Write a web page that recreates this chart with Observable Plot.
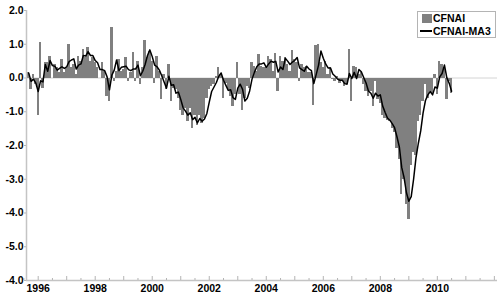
<!DOCTYPE html>
<html><head><meta charset="utf-8">
<script src="https://cdn.jsdelivr.net/npm/d3@7"></script>
<script src="https://cdn.jsdelivr.net/npm/@observablehq/plot@0.6"></script>
<style>
html,body{margin:0;padding:0;background:#fff;}
#wrap{position:relative;width:500px;height:300px;font-family:"Liberation Sans",Arial,sans-serif;}
#legend{position:absolute;left:417px;top:11px;width:77px;height:25px;border:1px solid #b4b4b4;background:#fff;font-weight:bold;font-size:10.5px;color:#000;}
#legend .sw{position:absolute;left:4px;top:2px;width:10px;height:9px;background:#808080;}
#legend .ln{position:absolute;left:2px;top:18px;width:12px;height:1.6px;background:#000;}
#legend .t1{position:absolute;left:15px;top:0px;line-height:13px;}
#legend .t2{position:absolute;left:15px;top:13px;line-height:13px;}
</style>
</head><body>
<div id="wrap"><div id="chart"></div>
<div id="legend"><div class="sw"></div><span class="t1">CFNAI</span><div class="ln"></div><span class="t2">CFNAI-MA3</span></div>
</div>
<script>
// Monthly CFNAI values, Sep 1995 – Jul 2010
const firstYear = 1995, firstMonth = 9;
const cfnai = [
 0.15,-0.35,0.1,-0.2,
 -1.1,1.05,-0.3,0.45,0.45,0.65,0.0,0.4,0.3,0.15,0.55,0.15,
 0.3,1.0,0.3,0.4,0.1,0.65,0.5,0.85,0.6,0.9,0.5,0.6,
 0.45,0.3,0.0,0.45,0.2,-0.55,-0.7,1.5,-0.1,0.2,0.55,0.2,
 0.25,0.6,-0.1,0.15,0.75,-0.1,0.5,-0.2,0.3,1.1,0.6,0.8,
 0.5,-0.15,0.65,0.2,-0.65,0.1,-0.35,0.4,-0.7,-0.3,-0.35,-0.6,
 -0.95,-1.1,-0.9,-1.3,-0.9,-1.5,-1.1,-1.4,-1.1,-1.35,-1.2,-0.6,
 -0.35,-0.25,-0.2,0.05,0.3,0.1,-0.6,-0.15,-0.35,-0.55,-0.85,-0.5,
 0.45,-0.5,-0.95,-0.6,-0.25,-0.3,0.45,0.35,0.2,0.7,0.35,0.3,
 0.3,0.65,0.55,0.2,0.73,-0.4,0.65,0.5,0.6,0.4,0.2,0.82,
 0.55,0.45,-0.1,0.4,0.3,0.35,0.15,0.15,-0.8,0.95,1.0,0.45,
 0.3,0.5,0.1,0.3,-0.05,-0.1,0.05,-0.15,-0.1,-0.25,-0.2,0.85,
 -0.7,0.35,0.3,0.1,0.15,-0.2,-0.4,-0.55,-0.4,-0.85,-0.1,-0.65,
 -0.75,-1.1,-1.2,-1.25,-1.3,-1.5,-1.62,-2.1,-2.4,-3.45,-3.0,-3.75,
 -4.2,-2.6,-2.2,-2.3,-1.3,-1.1,-0.7,-0.2,-0.6,-0.4,-0.5,0.1,
 -0.5,0.5,0.4,0.25,-0.63,-0.1,-0.45
];
const yTicks = [2, 1, 0, -1, -2, -3, -4, -5, -6];
const yTickLabels = ["2.0","1.0","0.0","-1.0","-2.0","-3.0","-4.0","-5.0","-4.0"];
const xLabelYears = [1996, 1998, 2000, 2002, 2004, 2006, 2008, 2010];
const yearTicks = d3.range(1996, 2013);
const halfYearTicks = d3.range(1995.5, 2012, 1);
const xDomain = [1995.59, 2012.11];
const yDomain = [-6, 2];

const data = cfnai.map((v, i) => ({t: firstYear + (firstMonth - 1 + i) / 12, v}));
const hw = 1 / 24;

const chart = Plot.plot({
  width: 500, height: 300,
  marginLeft: 26, marginRight: 3, marginTop: 10, marginBottom: 20,
  x: {domain: xDomain, label: null},
  y: {domain: yDomain, label: null},
  style: {fontFamily: '"Liberation Sans", Arial, sans-serif', fontSize: "10.5px", fontWeight: "bold", color: "#000", background: "#fff"},
  marks: [
    Plot.ruleY([0], {stroke: "#d4d4d4", strokeWidth: 1}),
    Plot.rect(data, {x1: d => d.t - hw, x2: d => d.t + hw, y1: 0, y2: "v", fill: "#808080", shapeRendering: "crispEdges"}),
    Plot.lineY(data, Plot.windowY({k: 3, anchor: "end"}, {x: "t", y: "v", stroke: "#000", strokeWidth: 1.5})),
    Plot.ruleX([xDomain[0]], {stroke: "#c4c4c4", strokeWidth: 1.5}),
    Plot.ruleY([yDomain[0]], {stroke: "#c4c4c4", strokeWidth: 1.5}),
    Plot.tickX(yearTicks, {x: d => d, insetTop: 266, stroke: "#b4b4b4"}),
    Plot.tickX(halfYearTicks, {x: d => d, insetTop: 268, stroke: "#b4b4b4"}),
    Plot.axisY({ticks: yTicks, tickFormat: d => yTickLabels[yTicks.indexOf(d)], tickSize: 2, tickPadding: 1, stroke: "#b4b4b4", fill: "#000"}),
    Plot.axisX({ticks: xLabelYears, tickFormat: d => String(d), tickSize: 0, tickPadding: 4, fill: "#000"})
  ]
});
document.getElementById("chart").appendChild(chart);
</script>
</body></html>
